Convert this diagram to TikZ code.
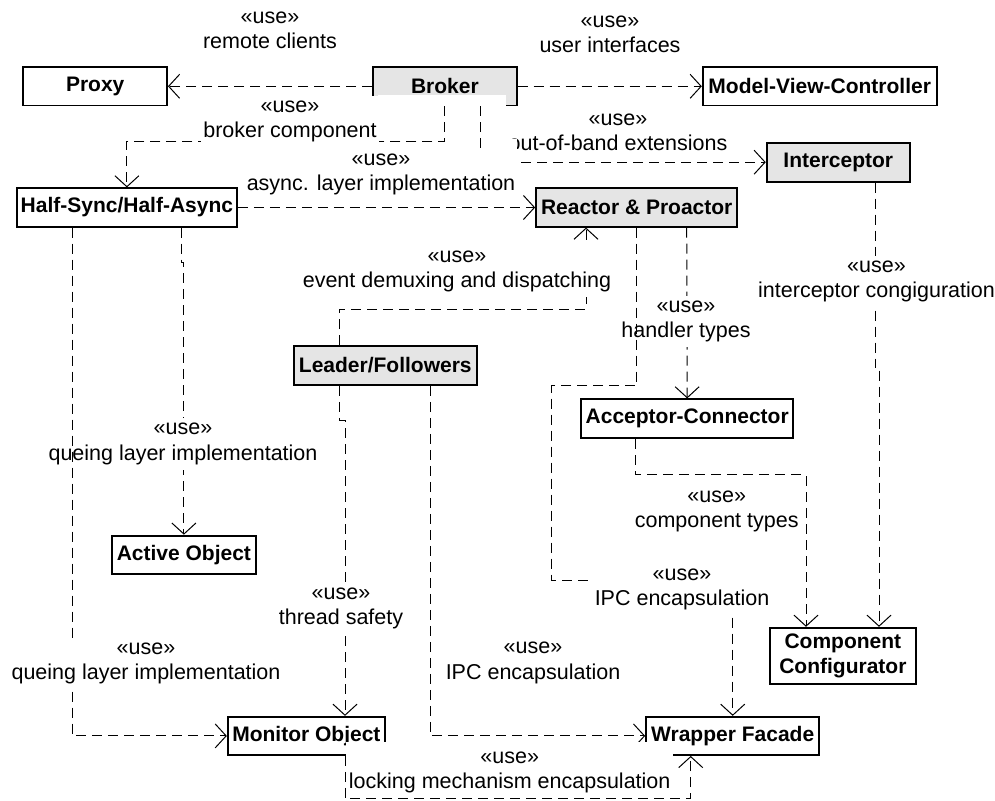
\documentclass[tikz,border=0pt]{standalone}
\usepackage{fontspec}
\setmainfont{Liberation Sans}
\usetikzlibrary{arrows.meta}
\definecolor{boxgray}{gray}{0.9}
\begin{document}
\begin{tikzpicture}[x=1pt,y=-1pt,
  box/.style={draw=black, line width=1.8pt, fill=white, inner sep=0pt,
    align=center, font=\fontsize{21}{25.6}\selectfont\bfseries},
  graybox/.style={box, fill=boxgray},
  dep/.style={draw=black, line width=1pt, dash pattern=on 10pt off 6pt,
    -{Straight Barb[length=11pt,width=24pt]}},
  lbl/.style={fill=white, inner xsep=2.5pt, inner ysep=5pt, align=center,
    font=\fontsize{21.5}{25.5}\selectfont},
  freelbl/.style={inner sep=0pt, align=center, font=\fontsize{21.5}{25.5}\selectfont}]
\useasboundingbox (0,0) rectangle (995,800);

% pattern boxes
\node[box, minimum width=143.7pt, minimum height=38.5pt] (proxy) at (95.2,86.3) {Proxy};
\node[graybox, minimum width=143.7pt, minimum height=38.5pt] (broker) at (444.9,86.3) {Broker};
\node[box, minimum width=234pt, minimum height=38.5pt] (mvc) at (819.7,86.3) {Model-View-Controller};
\node[graybox, minimum width=143.3pt, minimum height=39pt] (interceptor) at (838.3,162.2) {Interceptor};
\node[box, minimum width=220.3pt, minimum height=38.4pt] (halfsync) at (126.9,207.5) {Half-Sync/Half-Async};
\node[graybox, minimum width=201.3pt, minimum height=38.4pt] (reactor) at (636.7,207.5) {Reactor \& Proactor};
\node[graybox, minimum width=182.7pt, minimum height=39pt] (leader) at (385.3,365.5) {Leader/Followers};
\node[box, minimum width=212.3pt, minimum height=39pt] (acceptor) at (687.2,418.8) {Acceptor-Connector};
\node[box, minimum width=144.3pt, minimum height=38.4pt] (active) at (183.9,554.8) {Active Object};
\node[box, minimum width=145.7pt, minimum height=56.6pt] (cc) at (842.9,656) {Component\\Configurator};
\node[box, minimum width=157.3pt, minimum height=38.3pt] (monitor) at (306.4,735.9) {Monitor Object};
\node[box, minimum width=173.3pt, minimum height=38.3pt] (wrapper) at (732.7,735.9) {Wrapper Facade};

% blank patch over the lower part of the Broker box
\fill[white] (378,95) rectangle (506,106.5);

% Broker dependencies
\draw[dep] (broker.west) -- (proxy.east);
\node[freelbl] (lremote) at (270,30.5) {«use»\\remote clients};
\draw[dep] (broker.east) -- (mvc.west);
\node[freelbl] (lui) at (610,34.5) {«use»\\user interfaces};
\draw[dep] (broker.south) -- ++(0,35.5) -| (halfsync.north);
\node[lbl] (lbroker) at (290,121.3) {«use»\\broker component};
\draw[dep] ([xshift=36pt]broker.south) |- (interceptor.west);
\node[freelbl] (loob) at (618,132.5) {«use»\\out-of-band extensions};

% Half-Sync/Half-Async to Reactor
\draw[dep] (halfsync.east) -- (reactor.west);
\fill[white] (482.5,139) rectangle (516.5,166);
\node[lbl] (lasync) at (381,174.3) {«use»\\async. layer implementation};

% Leader/Followers to Reactor
\draw[dep] ([xshift=-46pt]leader.north) -- ++(0,-36) -| ([xshift=-50.7pt]reactor.south);
\node[lbl] (levent) at (457,271.3) {«use»\\event demuxing and dispatching};

% Reactor to Acceptor-Connector and Wrapper Facade
\draw[dep] ([xshift=50pt]reactor.south) -- (acceptor.north);
\node[lbl] (lhandler) at (686,321.3) {«use»\\handler types};
\draw[dep] (reactor.south) -- ++(0,158.3) -- ++(-85,0) -- ++(0,194.3) -| (wrapper.north);
\node[lbl] (lipcr) at (682,589.3) {«use»\\IPC encapsulation};

% Acceptor-Connector and Interceptor to Component Configurator
\draw[dep] ([xshift=-52.2pt]acceptor.south) -- ++(0,35.7) -| ([xshift=-36.9pt]cc.north);
\node[freelbl] (lcomp) at (716.7,511.3) {«use»\\component types};
\draw[dep] ([xshift=36.7pt]interceptor.south) -- ++(0,185) -| ([xshift=36.1pt]cc.north);
\node[lbl] (licpt) at (876.5,281.3) {«use»\\interceptor congiguration};

% Half-Sync/Half-Async to Active Object and Monitor Object
\draw[dep] ([xshift=54.8pt]halfsync.south) -- ++(0,35) -| (active.north);
\node[lbl] (lqact) at (183,443.8) {«use»\\queing layer implementation};
\draw[dep] ([xshift=-54.2pt]halfsync.south) |- (monitor.west);
\node[lbl] (lqmon) at (146,663.3) {«use»\\queing layer implementation};

% Leader/Followers to Monitor Object and Wrapper Facade
\draw[dep] ([xshift=-46pt]leader.south) -- ++(0,35) -| ([xshift=38.6pt]monitor.north);
\node[lbl] (lthread) at (341,608.3) {«use»\\thread safety};
\draw[dep] ([xshift=44.7pt]leader.south) |- (wrapper.west);
\node[freelbl] (lipcl) at (533,662.8) {«use»\\IPC encapsulation};

% Monitor Object to Wrapper Facade
\draw[dep] ([xshift=38.6pt]monitor.south) -- ++(0,42.7) -| ([xshift=-42pt]wrapper.south);
\fill[white] (346.3,741.5) rectangle (673,796.3);
\node[freelbl] (llock) at (509.7,772.3) {«use»\\locking mechanism encapsulation};
\end{tikzpicture}
\end{document}
